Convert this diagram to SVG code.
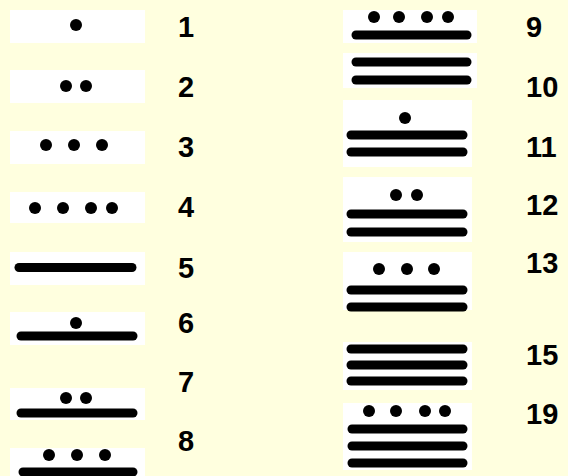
<svg xmlns="http://www.w3.org/2000/svg" width="568" height="476" viewBox="0 0 568 476">
<style>
.bg{fill:#FFFFDF}
.box{fill:#FFFFFF}
.dot{fill:#000}
.bar{stroke:#000;stroke-width:9;stroke-linecap:round}
.lbl{font-family:"Liberation Sans",Arial,sans-serif;font-weight:bold;font-size:29px;fill:#000}
</style>
<rect class="bg" x="0" y="0" width="568" height="476"/>
<g id="n1"><rect class="box" x="10" y="10" width="135" height="33"/><circle class="dot" cx="76" cy="25" r="6"/><text class="lbl" x="178" y="37">1</text></g>
<g id="n2"><rect class="box" x="10" y="70" width="135" height="33"/><circle class="dot" cx="66" cy="86" r="6"/><circle class="dot" cx="86" cy="86" r="6"/><text class="lbl" x="178" y="97">2</text></g>
<g id="n3"><rect class="box" x="10" y="131" width="135" height="33"/><circle class="dot" cx="46" cy="145" r="6"/><circle class="dot" cx="74" cy="145" r="6"/><circle class="dot" cx="102" cy="145" r="6"/><text class="lbl" x="178" y="157">3</text></g>
<g id="n4"><rect class="box" x="10" y="192" width="135" height="31"/><circle class="dot" cx="35" cy="208" r="6"/><circle class="dot" cx="63" cy="208" r="6"/><circle class="dot" cx="91" cy="208" r="6"/><circle class="dot" cx="112" cy="208" r="6"/><text class="lbl" x="178" y="217">4</text></g>
<g id="n5"><rect class="box" x="10" y="252" width="135" height="33"/><line class="bar" x1="19" y1="267.5" x2="132" y2="267.5"/><text class="lbl" x="178" y="278">5</text></g>
<g id="n6"><rect class="box" x="10" y="312" width="135" height="33"/><circle class="dot" cx="76" cy="323" r="6"/><line class="bar" x1="21" y1="336" x2="133" y2="336"/><text class="lbl" x="178" y="333">6</text></g>
<g id="n7"><rect class="box" x="10" y="388" width="135" height="32"/><circle class="dot" cx="66" cy="398" r="6"/><circle class="dot" cx="86" cy="398" r="6"/><line class="bar" x1="21" y1="413" x2="133" y2="413"/><text class="lbl" x="178" y="392">7</text></g>
<g id="n8"><rect class="box" x="10" y="448" width="135" height="28"/><circle class="dot" cx="49" cy="455" r="6"/><circle class="dot" cx="77" cy="455" r="6"/><circle class="dot" cx="105" cy="455" r="6"/><line class="bar" x1="23" y1="472" x2="133" y2="472"/><text class="lbl" x="178" y="451">8</text></g>
<g id="n9"><rect class="box" x="343" y="10" width="134" height="33"/><circle class="dot" cx="374" cy="17" r="6"/><circle class="dot" cx="399" cy="17" r="6"/><circle class="dot" cx="427" cy="17" r="6"/><circle class="dot" cx="448" cy="17" r="6"/><line class="bar" x1="356" y1="35" x2="467" y2="35"/><text class="lbl" x="526" y="37">9</text></g>
<g id="n10"><rect class="box" x="343" y="53" width="134" height="35"/><line class="bar" x1="356" y1="62" x2="467" y2="62"/><line class="bar" x1="356" y1="80" x2="467" y2="80"/><text class="lbl" x="526" y="97">10</text></g>
<g id="n11"><rect class="box" x="343" y="100" width="129" height="67"/><circle class="dot" cx="405" cy="118" r="6"/><line class="bar" x1="351" y1="135" x2="463" y2="135"/><line class="bar" x1="351" y1="152" x2="463" y2="152"/><text class="lbl" x="526" y="157">11</text></g>
<g id="n12"><rect class="box" x="343" y="177" width="129" height="65"/><circle class="dot" cx="396" cy="195" r="6"/><circle class="dot" cx="417" cy="195" r="6"/><line class="bar" x1="351" y1="214" x2="463" y2="214"/><line class="bar" x1="351" y1="232" x2="463" y2="232"/><text class="lbl" x="526" y="215">12</text></g>
<g id="n13"><rect class="box" x="343" y="252" width="129" height="58"/><circle class="dot" cx="379" cy="269" r="6"/><circle class="dot" cx="407" cy="269" r="6"/><circle class="dot" cx="434" cy="269" r="6"/><line class="bar" x1="351" y1="290" x2="463" y2="290"/><line class="bar" x1="351" y1="307" x2="463" y2="307"/><text class="lbl" x="526" y="273">13</text></g>
<g id="n15"><rect class="box" x="343" y="342" width="129" height="48"/><line class="bar" x1="351" y1="349" x2="463" y2="349"/><line class="bar" x1="351" y1="365" x2="463" y2="365"/><line class="bar" x1="351" y1="381" x2="463" y2="381"/><text class="lbl" x="526" y="365">15</text></g>
<g id="n19"><rect class="box" x="343" y="403" width="129" height="67"/><circle class="dot" cx="369" cy="411" r="6"/><circle class="dot" cx="396" cy="411" r="6"/><circle class="dot" cx="425" cy="411" r="6"/><circle class="dot" cx="445" cy="411" r="6"/><line class="bar" x1="352" y1="429" x2="463" y2="429"/><line class="bar" x1="352" y1="446" x2="463" y2="446"/><line class="bar" x1="352" y1="463" x2="463" y2="463"/><text class="lbl" x="526" y="424">19</text></g>
<g id="connectors"/>
</svg>
